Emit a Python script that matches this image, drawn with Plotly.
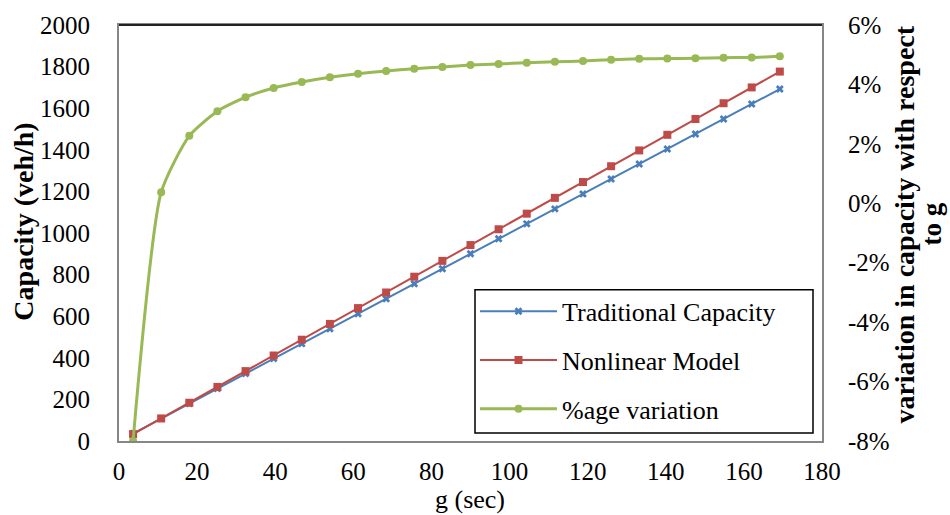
import plotly.graph_objects as go

g_sec = [3.6, 10.8, 18.0, 25.2, 32.4, 39.6, 46.8, 54.0, 61.2, 68.4, 75.6, 82.8,
         90.0, 97.2, 104.4, 111.6, 118.8, 126.0, 133.2, 140.4, 147.6, 154.8, 162.0, 169.2]
traditional = [36, 108, 180, 252, 324, 396, 468, 540, 612, 684, 756, 828,
               900, 972, 1044, 1116, 1188, 1260, 1332, 1404, 1476, 1548, 1620, 1692]
nonlinear = [33, 108.4, 184, 260, 336, 411, 487, 563, 639, 714, 790, 866,
             942, 1018, 1093, 1169, 1245, 1321, 1397, 1472, 1548, 1624, 1700, 1776]
variation = [-0.080, 0.0037, 0.0227, 0.0310, 0.0357, 0.0388, 0.0408, 0.0424,
             0.0436, 0.0445, 0.0453, 0.0459, 0.0465, 0.0469, 0.0473, 0.0476,
             0.0479, 0.0483, 0.0486, 0.0487, 0.0488, 0.0490, 0.0491, 0.0495]

y2_ticks = [-0.08, -0.06, -0.04, -0.02, 0.0, 0.02, 0.04, 0.06]
y2_text = ["-8%", "-6%", "-4%", "-2%", "0%", "2%", "4%", "6%"]

FONT = "Liberation Serif"
BLUE = "#4A7EBB"
RED = "#BE4B48"
GREEN = "#98B954"

fig = go.Figure()
fig.add_trace(go.Scatter(x=g_sec, y=traditional, name="Traditional Capacity",
                         mode="lines+markers", legendgroup="a",
                         line=dict(color=BLUE, width=2),
                         marker=dict(symbol="x", size=7, color=BLUE)))
fig.add_trace(go.Scatter(x=g_sec, y=nonlinear, name="Nonlinear Model",
                         mode="lines+markers", legendgroup="b",
                         line=dict(color=RED, width=2),
                         marker=dict(symbol="square", size=8, color=RED)))
fig.add_trace(go.Scatter(x=g_sec, y=variation, name="%age variation",
                         mode="lines+markers", legendgroup="c", yaxis="y2",
                         line=dict(color=GREEN, width=3, shape="spline", smoothing=0.6),
                         marker=dict(symbol="circle", size=8, color=GREEN)))

W, H = 950, 515
L, R, T, B = 119, 128, 20, 74
pw, ph = W - L - R, H - T - B

def px(xp):
    return (xp - L) / pw

def py(yp):
    return (H - B - yp) / ph

fig.update_layout(
    width=W, height=H,
    margin=dict(l=L, r=R, t=T, b=B, pad=0),
    paper_bgcolor="white", plot_bgcolor="white",
    font=dict(family=FONT, size=25, color="black"),
    showlegend=True,
    legend=dict(x=px(475), y=py(286), xanchor="left", yanchor="top",
                borderwidth=0, bgcolor="rgba(0,0,0,0)",
                font=dict(family=FONT, size=26), tracegroupgap=12, itemwidth=77,
                traceorder="grouped"),
    xaxis=dict(range=[0, 180], dtick=20, showgrid=False, zeroline=False,
               showline=True, linecolor="#868686", linewidth=2, mirror=True,
               ticks="outside", ticklen=7, tickcolor="rgba(0,0,0,0)",
               tickfont=dict(family=FONT, size=25)),
    yaxis=dict(range=[0, 2000], dtick=200, showgrid=False, zeroline=False,
               showline=True, linecolor="#868686", linewidth=2, mirror=True,
               ticks="outside", ticklen=22, tickcolor="rgba(0,0,0,0)",
               tickfont=dict(family=FONT, size=25)),
    yaxis2=dict(range=[-0.08, 0.06], overlaying="y", side="right",
                tickvals=y2_ticks, ticktext=y2_text, showgrid=False,
                zeroline=False, showline=False,
                ticks="outside", ticklen=20, tickcolor="rgba(0,0,0,0)",
                tickfont=dict(family=FONT, size=25)),
)

fig.add_shape(type="line", xref="x domain", yref="y domain", x0=0, x1=1, y0=1, y1=1,
              line=dict(color="#222222", width=2))
# legend frame
fig.add_shape(type="rect", xref="paper", yref="paper", layer="above",
              x0=px(475), x1=px(813), y0=py(433), y1=py(288),
              line=dict(color="black", width=1.5), fillcolor="white")

fig.add_annotation(text="<b>Capacity (veh/h)</b>", textangle=-90, showarrow=False,
                   xref="paper", yref="paper", x=px(24), y=py(219),
                   xanchor="center", yanchor="middle", font=dict(family=FONT, size=28))
fig.add_annotation(text="<b>variation in capacity with respect</b>", textangle=-90,
                   showarrow=False, xref="paper", yref="paper", x=px(905), y=py(222),
                   xanchor="center", yanchor="middle", font=dict(family=FONT, size=28))
fig.add_annotation(text="<b>to g</b>", textangle=-90, borderpad=0,
                   showarrow=False, xref="paper", yref="paper", x=px(932), y=py(222),
                   xanchor="center", yanchor="middle", font=dict(family=FONT, size=27))
fig.add_annotation(text="g (sec)", showarrow=False, xref="paper", yref="paper",
                   x=px(470), y=py(500), xanchor="center", yanchor="middle",
                   font=dict(family=FONT, size=26))

fig.write_html("out.html")
